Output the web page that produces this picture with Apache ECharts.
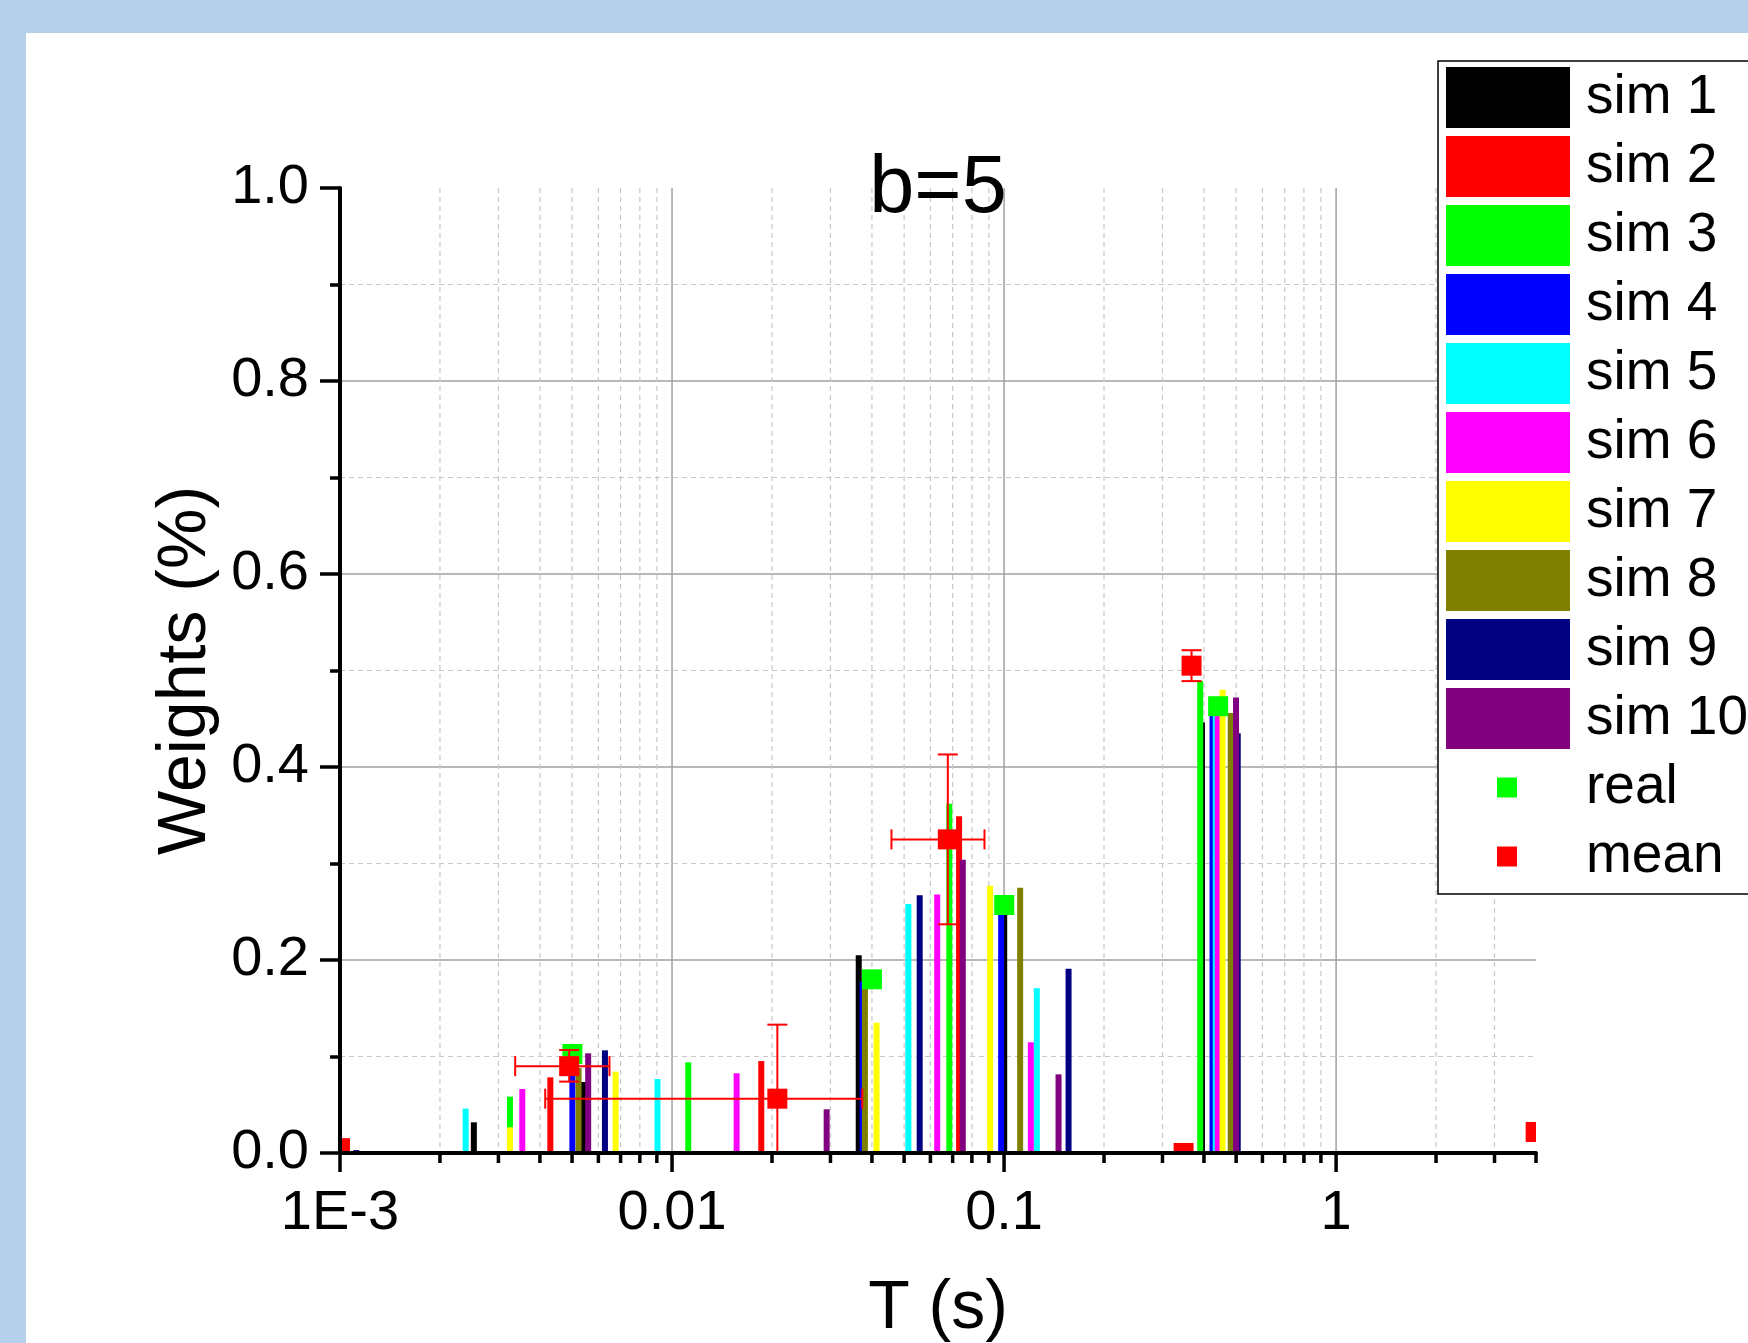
<!DOCTYPE html>
<html>
<head>
<meta charset="utf-8">
<title>b=5</title>
<script src="https://cdn.jsdelivr.net/npm/echarts@6/dist/echarts.min.js"></script>
<style>
  html, body { margin: 0; padding: 0; background: #fff; }
  #chart { width: 1748px; height: 1343px; }
</style>
</head>
<body>
<div id="chart"></div>
<script>
// sims: relaxation times T (s) and weights
const simNames = ['sim 1', 'sim 2', 'sim 3', 'sim 4', 'sim 5', 'sim 6', 'sim 7', 'sim 8', 'sim 9', 'sim 10']
const simColors = ['#000000', '#ff0000', '#00ff00', '#0000ff', '#00ffff', '#ff00ff', '#ffff00', '#808000', '#000080', '#800080']
const simT = [
  [0.00253, 0.0054, 0.0365, 0.1001, 0.3945],
  [0.0043, 0.01857, 0.0732],
  [0.00325, 0.01119, 0.0684, 0.3897, 3.70],
  [0.00501, 0.0375, 0.098, 0.4245],
  [0.00239, 0.00904, 0.0515, 0.1255, 0.434, 3.92],
  [0.00354, 0.01565, 0.0629, 0.1204, 0.4403],
  [0.00325, 0.00676, 0.0413, 0.0908, 0.455],
  [0.00523, 0.0381, 0.1118, 0.4815],
  [0.00112, 0.00628, 0.0557, 0.1564, 0.5055],
  [0.00559, 0.02922, 0.0751, 0.1459, 0.4996]
]
const simW = [
  [0.0318, 0.0736, 0.205, 0.255, 0.446],
  [0.0784, 0.0953, 0.349],
  [0.0584, 0.094, 0.362, 0.489, 0.002],
  [0.095, 0.1775, 0.255, 0.455],
  [0.046, 0.0767, 0.258, 0.1706, 0.455, 0.002],
  [0.0663, 0.0826, 0.268, 0.1147, 0.46],
  [0.0266, 0.0843, 0.135, 0.277, 0.48],
  [0.088, 0.175, 0.275, 0.456],
  [0.003, 0.1064, 0.267, 0.191, 0.435],
  [0.1033, 0.0453, 0.304, 0.0815, 0.472]
]

// real values
const realT = [0.00501, 0.04, 0.1001, 0.4413]
const realW = [0.1026, 0.180, 0.257, 0.463]

// mean with error bars (lo == hi means no bar)
const meanT = [0.001, 0.0049, 0.02076, 0.0677, 0.3473, 0.367, 3.99]
const meanW = [0.005, 0.090, 0.0563, 0.325, 0.0, 0.505, 0.0218]
const meanTLo = [0.001, 0.00337, 0.00415, 0.0458, 0.3473, 0.367, 3.99]
const meanTHi = [0.001, 0.00648, 0.0374, 0.0873, 0.3473, 0.367, 3.99]
const meanWLo = [0.005, 0.074, -0.0204, 0.237, 0.0, 0.489, 0.0218]
const meanWHi = [0.005, 0.1067, 0.133, 0.413, 0.0, 0.521, 0.0218]

// axis ticks
const xMajorTicks = [0.001, 0.01, 0.1, 1]
const xTickLabels = ['1E-3', '0.01', '0.1', '1']
const xMinorTicks = [
  0.002, 0.003, 0.004, 0.005, 0.006, 0.007, 0.008, 0.009,
  0.02, 0.03, 0.04, 0.05, 0.06, 0.07, 0.08, 0.09,
  0.2, 0.3, 0.4, 0.5, 0.6, 0.7, 0.8, 0.9,
  2, 3, 4
]

const FONT = "'Liberation Sans', Arial, sans-serif"
const CAP = 10

const chart = echarts.init(document.getElementById('chart'))

// x ticks + vertical grid lines (log axis ticks at 2..9 per decade)
function renderXTick(major) {
  return function (params, api) {
    const cs = params.coordSys
    const v = api.value(0)
    const b = api.coord([v, 0])
    const t = api.coord([v, 1])
    const children = []
    const onEdge = Math.abs(b[0] - cs.x) < 1 || Math.abs(b[0] - (cs.x + cs.width)) < 1
    if (!onEdge) {
      children.push({
        type: 'line',
        shape: { x1: b[0], y1: t[1], x2: b[0], y2: b[1] },
        style: major
          ? { stroke: '#a0a0a0', lineWidth: 1.5 }
          : { stroke: '#c8c8c8', lineWidth: 1.2, lineDash: [5, 4] },
      })
    }
    children.push({
      type: 'line',
      shape: { x1: b[0], y1: b[1], x2: b[0], y2: b[1] + (major ? 19 : 10) },
      style: { stroke: '#000', lineWidth: 3.5 },
    })
    return { type: 'group', children }
  }
}

function renderMean(params, api) {
  const cs = params.coordSys
  const x0 = cs.x, x1 = cs.x + cs.width, y0 = cs.y, y1 = cs.y + cs.height
  const clampX = v => Math.min(Math.max(v, x0), x1)
  const clampY = v => Math.min(Math.max(v, y0), y1)
  const inside = (px, py) => px >= x0 - 0.5 && px <= x1 + 0.5 && py >= y0 - 0.5 && py <= y1 + 0.5
  const t = api.value(0), w = api.value(1)
  const tLo = api.value(2), tHi = api.value(3), wLo = api.value(4), wHi = api.value(5)
  const c = api.coord([t, w])
  const ls = { stroke: '#ff0000', lineWidth: 2 }
  const children = []

  if (tHi > tLo) {
    const a = api.coord([tLo, w]), b = api.coord([tHi, w])
    children.push({ type: 'line', shape: { x1: clampX(a[0]), y1: c[1], x2: clampX(b[0]), y2: c[1] }, style: ls })
    ;[a, b].forEach(p => {
      if (inside(p[0], c[1])) children.push({ type: 'line', shape: { x1: p[0], y1: c[1] - CAP, x2: p[0], y2: c[1] + CAP }, style: ls })
    })
  }
  if (wHi > wLo) {
    const a = api.coord([t, wLo]), b = api.coord([t, wHi])
    children.push({ type: 'line', shape: { x1: c[0], y1: clampY(a[1]), x2: c[0], y2: clampY(b[1]) }, style: ls })
    ;[a, b].forEach(p => {
      if (inside(c[0], p[1])) children.push({ type: 'line', shape: { x1: c[0] - CAP, y1: p[1], x2: c[0] + CAP, y2: p[1] }, style: ls })
    })
  }
  const rect = echarts.graphic.clipRectByRect({ x: c[0] - 10, y: c[1] - 10, width: 20, height: 20 }, cs)
  if (rect) children.push({ type: 'rect', shape: rect, style: { fill: '#ff0000' } })
  return { type: 'group', children }
}

const simSeries = simNames.map((name, i) => ({
  name,
  type: 'bar',
  barWidth: 6,
  barGap: '-100%',
  silent: true,
  z: 2,
  itemStyle: { color: simColors[i], opacity: 1 },
  data: simT[i].map((t, j) => [t, simW[i][j]]),
}))

const legendText = { fontSize: 55, lineHeight: 55, fontFamily: FONT, color: '#000' }

const option = {
  animation: false,
  backgroundColor: '#ffffff',
  textStyle: { fontFamily: FONT },
  title: {
    text: 'b=5',
    left: 938,
    top: 149,
    padding: 0,
    textAlign: 'center',
    textStyle: { fontSize: 81, fontWeight: 'normal', fontFamily: FONT, color: '#000' },
  },
  grid: {
    left: 340,
    right: 212,
    top: 188,
    bottom: 190,
    containLabel: false,
    outerBoundsMode: 'none',
  },
  legend: [
    {
      data: simNames,
      orient: 'vertical',
      left: 1446,
      top: 67,
      padding: 0,
      itemWidth: 124,
      itemHeight: 61,
      itemGap: 8,
      icon: 'rect',
      selectedMode: false,
      z: 5,
      textStyle: { ...legendText, padding: [6, 0, 0, 11] },
    },
    {
      data: ['real', 'mean'],
      orient: 'vertical',
      left: 1497,
      top: 757,
      padding: 0,
      itemWidth: 20,
      itemHeight: 20,
      itemGap: 8,
      icon: 'rect',
      selectedMode: false,
      z: 5,
      textStyle: { ...legendText, padding: [6, 0, 0, 64] },
    },
  ],
  graphic: [
    { type: 'rect', z: 0, shape: { x: 0, y: 0, width: 1748, height: 33 }, style: { fill: '#b4d0ea' } },
    { type: 'rect', z: 0, shape: { x: 0, y: 0, width: 26, height: 1343 }, style: { fill: '#b4d0ea' } },
    { type: 'rect', z: 3, shape: { x: 1438, y: 61, width: 340, height: 833 }, style: { fill: '#fff', stroke: '#000', lineWidth: 1.5 } },
  ],
  xAxis: {
    type: 'log',
    logBase: 10,
    min: 0.001,
    max: 4,
    z: 10,
    name: 'T (s)',
    nameLocation: 'middle',
    nameGap: 122,
    nameTextStyle: { fontSize: 68, fontFamily: FONT, color: '#000' },
    axisLine: { lineStyle: { color: '#000', width: 4 } },
    axisTick: { show: false },
    splitLine: { show: false },
    axisLabel: {
      margin: 33,
      fontSize: 56,
      fontFamily: FONT,
      color: '#000',
      showMinLabel: true,
      formatter: v => {
        const idx = xMajorTicks.findIndex(m => Math.abs(Math.log10(v) - Math.log10(m)) < 1e-6)
        return idx >= 0 ? xTickLabels[idx] : ''
      },
    },
  },
  yAxis: [
    {
      type: 'value',
      min: 0,
      max: 1,
      interval: 0.2,
      position: 'left',
      z: 10,
      name: 'Weights (%)',
      nameLocation: 'middle',
      nameGap: 119,
      nameTextStyle: { fontSize: 68, fontFamily: FONT, color: '#000' },
      axisLine: { show: true, lineStyle: { color: '#000', width: 4 } },
      axisTick: { show: true, length: 20, lineStyle: { color: '#000', width: 3.5 } },
      minorTick: { show: true, splitNumber: 2, length: 10, lineStyle: { color: '#000', width: 3.5 } },
      splitLine: { show: false },
      axisLabel: {
        margin: 31,
        fontSize: 56,
        fontFamily: FONT,
        color: '#000',
        showMinLabel: true,
        showMaxLabel: true,
        formatter: v => v.toFixed(1),
      },
    },
    {
      // grid lines only, kept underneath the marks
      type: 'value',
      min: 0,
      max: 1,
      interval: 0.2,
      z: 0,
      axisLine: { show: false },
      axisTick: { show: false },
      axisLabel: { show: false },
      minorTick: { show: false, splitNumber: 2 },
      splitLine: { show: true, showMinLine: false, showMaxLine: false, lineStyle: { color: '#a0a0a0', width: 1.5 } },
      minorSplitLine: { show: true, lineStyle: { color: '#c8c8c8', width: 1.2, type: [5, 4] } },
    },
  ],
  series: [
    {
      type: 'custom',
      silent: true,
      z: 1,
      renderItem: renderXTick(true),
      data: xMajorTicks.map(v => [v, 0]),
    },
    {
      type: 'custom',
      silent: true,
      z: 1,
      renderItem: renderXTick(false),
      data: xMinorTicks.map(v => [v, 0]),
    },
    ...simSeries,
    {
      name: 'real',
      type: 'scatter',
      symbol: 'rect',
      symbolSize: 20,
      silent: true,
      z: 3,
      itemStyle: { color: '#00ff00', opacity: 1 },
      data: realT.map((t, i) => [t, realW[i]]),
    },
    {
      name: 'mean',
      type: 'custom',
      silent: true,
      z: 4,
      itemStyle: { color: '#ff0000', opacity: 1 },
      renderItem: renderMean,
      data: meanT.map((t, i) => [t, meanW[i], meanTLo[i], meanTHi[i], meanWLo[i], meanWHi[i]]),
    },
  ],
}

chart.setOption(option)
</script>
</body>
</html>
